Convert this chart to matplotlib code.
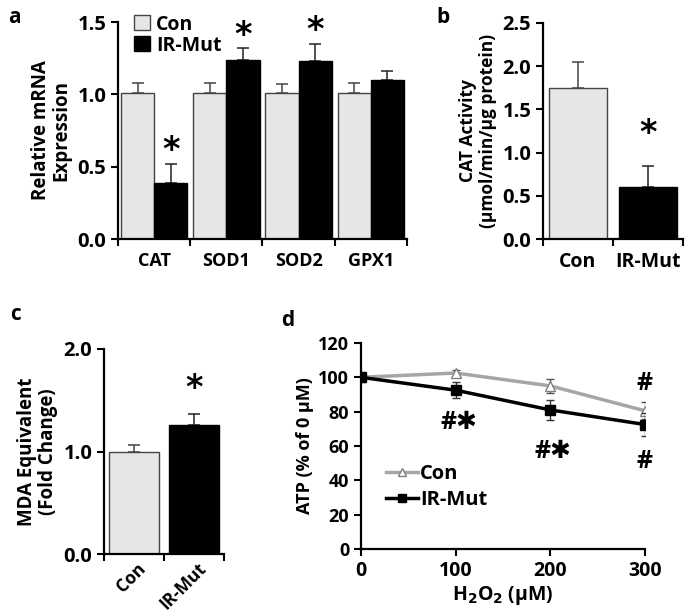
import matplotlib
matplotlib.use("Agg")
import matplotlib.pyplot as plt
import numpy as np
from matplotlib.patches import Patch
from matplotlib.lines import Line2D

plt.rcParams["font.family"] = ["Open Sans", "DejaVu Sans"]
plt.rcParams["font.weight"] = "bold"
plt.rcParams["axes.labelweight"] = "bold"

# ── Data ──────────────────────────────────────────────────────────────────
genes = ["CAT", "SOD1", "SOD2", "GPX1"]
mrna_con = [1.01, 1.01, 1.01, 1.01]
mrna_con_err = [0.07, 0.07, 0.06, 0.07]
mrna_mut = [0.39, 1.24, 1.23, 1.10]
mrna_mut_err = [0.13, 0.08, 0.12, 0.06]
mrna_sig = [True, True, True, False]

groups = ["Con", "IR-Mut"]
cat_act = [1.75, 0.60]
cat_act_err = [0.30, 0.24]

mda = [1.00, 1.26]
mda_err = [0.06, 0.11]

h2o2 = [0, 100, 200, 300]
atp_con = [100, 102.5, 95, 80.5]
atp_con_err = [1.0, 1.5, 4.0, 5.0]
atp_mut = [100, 92.5, 81, 72.5]
atp_mut_err = [1.0, 4.5, 6.0, 6.5]

CON_FC = "#e6e6e6"
CON_EC = "#444444"
MUT_FC = "black"
TICK_FS = 14.5


def style_axes(ax):
    for s in ["top", "right"]:
        ax.spines[s].set_visible(False)
    for s in ["left", "bottom"]:
        ax.spines[s].set_linewidth(1.6)
    ax.tick_params(axis="both", which="major", direction="out", length=5, width=1.5)


def errbar(ax, x, y, e, color):
    ax.errorbar(x, y, yerr=[[0], [e]], fmt="none", ecolor=color,
                elinewidth=1.1, capsize=4.5, capthick=1.1, zorder=1)


def star(ax, x, y):
    ax.text(x, y, "*", ha="center", va="center", fontsize=24,
            fontweight="bold", family="DejaVu Sans")


fig = plt.figure(figsize=(6.85, 6.13), dpi=100)

# ── a ────────────────────────────────────────────────────────────────────
ax_a = fig.add_axes([0.1723, 0.610, 0.4217, 0.354])
w = 0.46
for i in range(len(genes)):
    xc = i + 0.5 - w / 2
    xm = i + 0.5 + w / 2
    ax_a.bar(xc, mrna_con[i], w, color=CON_FC, edgecolor=CON_EC, linewidth=1, zorder=2)
    ax_a.bar(xm, mrna_mut[i], w, color=MUT_FC, edgecolor="black", linewidth=1, zorder=2)
    errbar(ax_a, xc, mrna_con[i], mrna_con_err[i], CON_EC)
    errbar(ax_a, xm, mrna_mut[i], mrna_mut_err[i], "#222222")
    if mrna_sig[i]:
        star(ax_a, xm, mrna_mut[i] + mrna_mut_err[i] + 0.09)
ax_a.set_xlim(0, 4)
ax_a.set_ylim(0, 1.5)
ax_a.set_yticks([0, 0.5, 1.0, 1.5])
ax_a.set_yticklabels(["0.0", "0.5", "1.0", "1.5"], fontsize=TICK_FS, fontweight="bold")
ax_a.set_xticks(range(5))
ax_a.set_xticklabels([])
ax_a.set_xticks(np.arange(4) + 0.5, minor=True)
ax_a.set_xticklabels(genes, minor=True, fontsize=13, fontweight="bold")
ax_a.tick_params(axis="x", which="minor", length=0, pad=9)
style_axes(ax_a)
ax_a.set_ylabel("Relative mRNA\nExpression", fontsize=13.5, labelpad=4, linespacing=1.05)
ax_a.legend(handles=[Patch(facecolor=CON_FC, edgecolor=CON_EC, label="Con"),
                     Patch(facecolor=MUT_FC, edgecolor="black", label="IR-Mut")],
            loc="upper left", bbox_to_anchor=(0.03, 1.07), frameon=False,
            prop={"size": 14, "weight": "bold"}, handlelength=0.8, handleheight=0.8,
            handletextpad=0.3, labelspacing=0.05, borderaxespad=0)
fig.text(0.012, 0.962, "a", fontsize=15, fontweight="bold")

# ── b ────────────────────────────────────────────────────────────────────
ax_b = fig.add_axes([0.7927, 0.610, 0.2043, 0.3525])
wb = 0.83
ax_b.bar(0.5, cat_act[0], wb, color=CON_FC, edgecolor=CON_EC, linewidth=1, zorder=2)
ax_b.bar(1.5, cat_act[1], wb, color=MUT_FC, edgecolor="black", linewidth=1, zorder=2)
errbar(ax_b, 0.5, cat_act[0], cat_act_err[0], CON_EC)
errbar(ax_b, 1.5, cat_act[1], cat_act_err[1], "#222222")
star(ax_b, 1.5, cat_act[1] + cat_act_err[1] + 0.38)
ax_b.set_xlim(0, 2)
ax_b.set_ylim(0, 2.5)
ax_b.set_yticks([0, 0.5, 1.0, 1.5, 2.0, 2.5])
ax_b.set_yticklabels(["0.0", "0.5", "1.0", "1.5", "2.0", "2.5"], fontsize=TICK_FS,
                     fontweight="bold")
ax_b.set_xticks([0, 1, 2])
ax_b.set_xticklabels([])
ax_b.set_xticks([0.5, 1.5], minor=True)
ax_b.set_xticklabels(groups, minor=True, fontsize=14, fontweight="bold")
ax_b.tick_params(axis="x", which="minor", length=0, pad=9)
style_axes(ax_b)
ax_b.set_ylabel("CAT Activity\n(μmol/min/μg protein)", fontsize=12.5, labelpad=4,
                linespacing=1.15)
fig.text(0.637, 0.962, "b", fontsize=15, fontweight="bold")

# ── c ────────────────────────────────────────────────────────────────────
ax_c = fig.add_axes([0.1518, 0.0962, 0.1752, 0.3345])
wc = 0.83
ax_c.bar(0.5, mda[0], wc, color=CON_FC, edgecolor=CON_EC, linewidth=1, zorder=2)
ax_c.bar(1.5, mda[1], wc, color=MUT_FC, edgecolor="black", linewidth=1, zorder=2)
errbar(ax_c, 0.5, mda[0], mda_err[0], CON_EC)
errbar(ax_c, 1.5, mda[1], mda_err[1], "#222222")
star(ax_c, 1.5, mda[1] + mda_err[1] + 0.24)
ax_c.set_xlim(0, 2)
ax_c.set_ylim(0, 2.0)
ax_c.set_yticks([0, 1.0, 2.0])
ax_c.set_yticklabels(["0.0", "1.0", "2.0"], fontsize=TICK_FS, fontweight="bold")
ax_c.set_xticks([0, 1, 2])
ax_c.set_xticklabels([])
ax_c.set_xticks([0.55, 1.55], minor=True)
ax_c.set_xticklabels(groups, minor=True, fontsize=12.5, fontweight="bold", rotation=45,
                     ha="right", rotation_mode="anchor")
ax_c.tick_params(axis="x", which="minor", length=0, pad=4)
style_axes(ax_c)
ax_c.set_ylabel("MDA Equivalent\n(Fold Change)", fontsize=13.5, labelpad=4,
                linespacing=1.05)
fig.text(0.015, 0.478, "c", fontsize=15, fontweight="bold")

# ── d ────────────────────────────────────────────────────────────────────
ax_d = fig.add_axes([0.527, 0.1044, 0.4146, 0.3361])
ax_d.errorbar(h2o2, atp_con, yerr=atp_con_err, color="#a6a6a6", lw=2.5,
              marker="^", ms=7, mfc="white", mec="#808080", mew=1,
              ecolor="#555555", elinewidth=1, capsize=3, label="Con", zorder=2)
ax_d.errorbar(h2o2, atp_mut, yerr=atp_mut_err, color="black", lw=2.5,
              marker="s", ms=7, ecolor="#333333", elinewidth=1, capsize=3,
              label="IR-Mut", zorder=3)
for x, y, s in [(103, 73.5, "#✱"), (203, 57, "#✱"), (300, 96.5, "#"), (300, 51, "#")]:
    ax_d.text(x, y, s, ha="center", va="center", fontsize=18, fontweight="bold")
ax_d.set_xlim(0, 300)
ax_d.set_ylim(0, 120)
ax_d.set_xticks(h2o2)
ax_d.set_xticklabels([str(v) for v in h2o2], fontsize=14, fontweight="bold")
ax_d.set_yticks(range(0, 121, 20))
ax_d.set_yticklabels([str(v) for v in range(0, 121, 20)], fontsize=13,
                     fontweight="bold")
style_axes(ax_d)
ax_d.set_xlabel("H$_\\mathbf{2}$O$_\\mathbf{2}$ (μM)", fontsize=14, labelpad=2)
ax_d.set_ylabel("ATP (% of 0 μM)", fontsize=13, labelpad=3)
ax_d.legend(handles=[Line2D([], [], color="#a6a6a6", lw=2.5, marker="^", ms=6,
                            mfc="white", mec="#808080", label="Con"),
                     Line2D([], [], color="black", lw=2.5, marker="s", ms=6,
                            label="IR-Mut")],
            loc="lower left", bbox_to_anchor=(0.06, 0.15), frameon=False,
            prop={"size": 14.5, "weight": "bold"}, handlelength=1.6,
            handletextpad=0.1, labelspacing=0.3, borderaxespad=0)
fig.text(0.41, 0.468, "d", fontsize=15, fontweight="bold")

fig.savefig("out.png", dpi=100)
